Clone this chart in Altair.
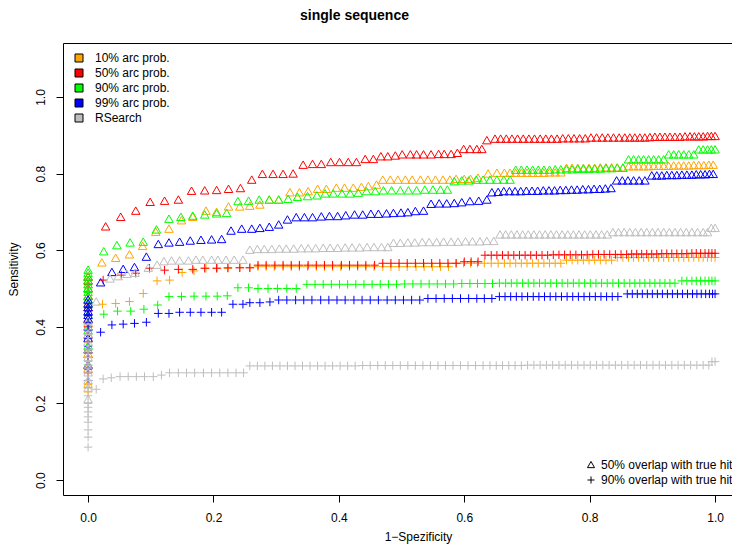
import altair as alt
import pandas as pd

FONT = "Liberation Sans"

SERIES = ["10% arc prob.", "50% arc prob.", "90% arc prob.", "99% arc prob.", "RSearch"]
COLORS = ["#FFA500", "#FF0000", "#00FF00", "#0000FF", "#BEBEBE"]
OVERLAPS = ["50% overlap with true hit", "90% overlap with true hit"]
X_TICKS = [0.0, 0.2, 0.4, 0.6, 0.8, 1.0]
Y_TICKS = [0.0, 0.2, 0.4, 0.6, 0.8, 1.0]

# ---- 10% arc prob. ----
ORANGE_50 = [(0.0,0.25),(0.0,0.29),(0.0,0.33),(0.0,0.37),(0.0,0.41),(0.0,0.45),(0.0,0.48),(0.0,0.51),(0.0,0.53),
 (0.022,0.567),(0.044,0.579),(0.066,0.588),(0.087,0.610),(0.108,0.647),(0.129,0.655),(0.149,0.677),(0.167,0.686),
 (0.188,0.702),(0.205,0.699),(0.224,0.713),(0.242,0.713),(0.258,0.715),(0.274,0.718),(0.289,0.731),(0.304,0.731),
 (0.322,0.750),(0.337,0.750),(0.351,0.753),(0.366,0.759),(0.380,0.759),(0.396,0.762),(0.409,0.762),(0.423,0.762),
 (0.436,0.764),(0.447,0.766),(0.460,0.770),(0.470,0.783),(0.482,0.783),(0.494,0.783),(0.506,0.783),(0.517,0.783),
 (0.530,0.783),(0.542,0.783),(0.554,0.783),(0.566,0.783),(0.577,0.783),(0.587,0.785),(0.600,0.785),(0.610,0.785),
 (0.622,0.788),(0.638,0.799),(0.652,0.801),(0.664,0.801),(0.673,0.801),(0.682,0.801),(0.691,0.801),(0.700,0.801),
 (0.709,0.801),(0.718,0.801),(0.727,0.801),(0.736,0.802),(0.745,0.802),(0.754,0.802),(0.763,0.814),(0.772,0.814),
 (0.781,0.814),(0.790,0.814),(0.799,0.814),(0.808,0.814),(0.817,0.815),(0.826,0.815),(0.835,0.815),(0.844,0.815),
 (0.853,0.815),(0.862,0.818),(0.870,0.818),(0.878,0.818),(0.886,0.818),(0.894,0.818),(0.902,0.819),(0.910,0.819),
 (0.918,0.819),(0.926,0.819),(0.934,0.820),(0.942,0.820),(0.950,0.820),(0.958,0.820),(0.966,0.821),(0.974,0.821),
 (0.982,0.821),(0.990,0.822),(0.997,0.822)]
ORANGE_90 = [(0.0,0.23),(0.0,0.25),(0.0,0.28),(0.0,0.31),(0.0,0.34),(0.0,0.37),(0.0,0.40),(0.0,0.43),(0.0,0.45),
 (0.023,0.459),(0.044,0.461),(0.066,0.466),(0.088,0.487),(0.110,0.520),(0.130,0.522),(0.150,0.542),(0.169,0.546),
 (0.188,0.553),(0.206,0.553),(0.223,0.553),(0.242,0.555),(0.258,0.555),(0.271,0.557),(0.284,0.557),(0.297,0.557),
 (0.311,0.557),(0.324,0.557),(0.337,0.557),(0.350,0.557),(0.364,0.557),(0.377,0.557),(0.390,0.557),(0.403,0.557),
 (0.417,0.557),(0.430,0.557),(0.443,0.557),(0.456,0.557),(0.470,0.557),(0.483,0.557),(0.496,0.557),(0.509,0.557),
 (0.523,0.557),(0.536,0.557),(0.549,0.557),(0.562,0.557),(0.575,0.557),(0.587,0.566),(0.599,0.566),(0.610,0.566),
 (0.621,0.566),(0.632,0.566),(0.643,0.566),(0.654,0.566),(0.664,0.566),(0.673,0.566),(0.682,0.566),(0.691,0.566),
 (0.700,0.566),(0.709,0.566),(0.718,0.566),(0.727,0.566),(0.736,0.566),(0.745,0.566),(0.754,0.566),(0.763,0.574),
 (0.772,0.574),(0.781,0.574),(0.790,0.574),(0.799,0.574),(0.808,0.574),(0.817,0.574),(0.826,0.574),(0.835,0.574),
 (0.844,0.581),(0.853,0.581),(0.862,0.581),(0.870,0.581),(0.878,0.581),(0.886,0.581),(0.894,0.581),(0.902,0.581),
 (0.910,0.581),(0.918,0.581),(0.926,0.581),(0.934,0.581),(0.942,0.581),(0.950,0.581),(0.958,0.581),(0.966,0.581),
 (0.974,0.581),(0.981,0.581),(0.988,0.581),(0.994,0.581),(1.0,0.581)]

# ---- 50% arc prob. ----
RED_50 = [(0.0,0.30),(0.0,0.34),(0.0,0.38),(0.0,0.42),(0.0,0.45),(0.0,0.48),(0.0,0.50),(0.0,0.52),(0.0,0.53),
 (0.028,0.661),(0.052,0.686),(0.076,0.702),(0.099,0.725),(0.122,0.728),(0.144,0.731),(0.165,0.754),(0.186,0.755),
 (0.205,0.756),(0.224,0.759),(0.243,0.761),(0.261,0.783),(0.278,0.798),(0.295,0.798),(0.311,0.798),(0.327,0.799),
 (0.343,0.822),(0.358,0.824),(0.372,0.824),(0.387,0.829),(0.401,0.829),(0.415,0.829),(0.428,0.829),(0.442,0.837),
 (0.455,0.837),(0.467,0.844),(0.478,0.844),(0.490,0.846),(0.501,0.849),(0.514,0.849),(0.524,0.849),(0.535,0.849),
 (0.547,0.849),(0.559,0.850),(0.568,0.850),(0.579,0.850),(0.589,0.853),(0.599,0.863),(0.609,0.863),(0.620,0.863),
 (0.628,0.863),(0.636,0.886),(0.649,0.890),(0.658,0.890),(0.667,0.890),(0.676,0.890),(0.685,0.890),(0.694,0.890),
 (0.703,0.890),(0.712,0.890),(0.721,0.890),(0.730,0.890),(0.739,0.890),(0.748,0.890),(0.757,0.891),(0.766,0.891),
 (0.775,0.891),(0.784,0.891),(0.793,0.891),(0.802,0.893),(0.811,0.893),(0.820,0.893),(0.829,0.893),(0.838,0.893),
 (0.847,0.893),(0.856,0.893),(0.864,0.893),(0.872,0.893),(0.880,0.893),(0.888,0.893),(0.896,0.894),(0.904,0.895),
 (0.912,0.895),(0.920,0.895),(0.928,0.895),(0.936,0.895),(0.944,0.895),(0.952,0.896),(0.960,0.896),(0.967,0.896),
 (0.974,0.896),(0.981,0.896),(0.988,0.897),(0.994,0.897),(1.0,0.897)]
RED_90 = [(0.0,0.28),(0.0,0.32),(0.0,0.36),(0.0,0.40),(0.0,0.43),(0.0,0.46),(0.0,0.49),(0.0,0.51),
 (0.024,0.522),(0.053,0.535),(0.076,0.540),(0.098,0.553),(0.122,0.548),(0.144,0.550),(0.167,0.550),(0.186,0.553),
 (0.205,0.553),(0.223,0.554),(0.242,0.554),(0.258,0.554),(0.271,0.561),(0.284,0.561),(0.298,0.561),(0.311,0.561),
 (0.324,0.561),(0.337,0.561),(0.351,0.561),(0.364,0.561),(0.377,0.561),(0.390,0.561),(0.404,0.561),(0.417,0.561),
 (0.430,0.561),(0.443,0.561),(0.457,0.561),(0.470,0.566),(0.483,0.566),(0.496,0.566),(0.509,0.566),(0.522,0.566),
 (0.535,0.566),(0.548,0.566),(0.561,0.566),(0.574,0.566),(0.587,0.566),(0.600,0.570),(0.611,0.570),(0.622,0.570),
 (0.633,0.587),(0.643,0.587),(0.652,0.587),(0.661,0.587),(0.670,0.587),(0.679,0.587),(0.688,0.587),(0.697,0.587),
 (0.706,0.587),(0.715,0.587),(0.724,0.587),(0.733,0.587),(0.742,0.588),(0.751,0.588),(0.760,0.588),(0.769,0.588),
 (0.778,0.588),(0.787,0.588),(0.796,0.588),(0.805,0.589),(0.814,0.589),(0.823,0.589),(0.832,0.589),(0.841,0.589),
 (0.850,0.589),(0.859,0.589),(0.867,0.590),(0.875,0.590),(0.883,0.590),(0.891,0.590),(0.899,0.590),(0.907,0.590),
 (0.915,0.591),(0.923,0.591),(0.931,0.591),(0.939,0.591),(0.947,0.591),(0.955,0.591),(0.963,0.592),(0.970,0.592),
 (0.977,0.592),(0.984,0.592),(0.990,0.592),(0.995,0.592),(1.0,0.592)]

# ---- 90% arc prob. ----
GREEN_50 = [(0.0,0.35),(0.0,0.39),(0.0,0.43),(0.0,0.46),(0.0,0.47),(0.0,0.48),(0.0,0.49),(0.0,0.50),(0.0,0.51),
 (0.0,0.52),(0.0,0.53),(0.0,0.54),(0.0,0.548),
 (0.025,0.596),(0.046,0.612),(0.067,0.619),(0.088,0.621),(0.109,0.653),(0.129,0.681),(0.148,0.686),(0.167,0.689),
 (0.186,0.692),(0.205,0.695),(0.221,0.696),(0.239,0.727),(0.256,0.728),(0.273,0.731),(0.289,0.731),(0.304,0.731),
 (0.319,0.733),(0.334,0.738),(0.350,0.740),(0.365,0.742),(0.378,0.747),(0.391,0.747),(0.405,0.747),(0.418,0.747),
 (0.431,0.749),(0.444,0.753),(0.458,0.753),(0.471,0.755),(0.484,0.755),(0.498,0.755),(0.511,0.755),(0.524,0.755),
 (0.537,0.757),(0.550,0.757),(0.562,0.757),(0.573,0.757),(0.584,0.779),(0.596,0.781),(0.607,0.781),(0.619,0.783),
 (0.630,0.783),(0.641,0.783),(0.652,0.783),(0.663,0.783),(0.673,0.783),(0.682,0.809),(0.691,0.809),(0.700,0.809),
 (0.709,0.809),(0.718,0.809),(0.727,0.809),(0.736,0.809),(0.745,0.810),(0.754,0.810),(0.763,0.810),(0.772,0.810),
 (0.781,0.811),(0.790,0.811),(0.799,0.811),(0.808,0.812),(0.817,0.812),(0.826,0.813),(0.835,0.813),(0.844,0.814),
 (0.853,0.814),(0.862,0.836),(0.870,0.836),(0.878,0.836),(0.886,0.836),(0.894,0.836),(0.902,0.836),(0.910,0.836),
 (0.918,0.836),(0.926,0.849),(0.934,0.849),(0.942,0.849),(0.950,0.849),(0.958,0.849),(0.966,0.849),(0.974,0.862),
 (0.981,0.862),(0.988,0.862),(0.994,0.862),(1.0,0.862)]
GREEN_90 = [(0.0,0.30),(0.0,0.34),(0.0,0.38),(0.0,0.41),(0.0,0.43),(0.0,0.45),(0.0,0.47),(0.0,0.49),
 (0.025,0.433),(0.047,0.441),(0.068,0.441),(0.089,0.446),(0.111,0.457),(0.129,0.479),(0.149,0.479),(0.169,0.480),
 (0.188,0.480),(0.206,0.480),(0.222,0.481),(0.239,0.502),(0.256,0.502),(0.271,0.500),(0.287,0.500),(0.302,0.500),
 (0.317,0.500),(0.332,0.500),(0.349,0.511),(0.362,0.511),(0.375,0.511),(0.388,0.511),(0.401,0.511),(0.414,0.511),
 (0.427,0.511),(0.440,0.511),(0.453,0.511),(0.466,0.511),(0.479,0.511),(0.492,0.511),(0.505,0.512),(0.518,0.512),
 (0.531,0.512),(0.544,0.512),(0.557,0.512),(0.570,0.512),(0.583,0.512),(0.596,0.513),(0.609,0.513),(0.621,0.513),
 (0.633,0.513),(0.645,0.513),(0.656,0.514),(0.666,0.514),(0.675,0.514),(0.684,0.514),(0.693,0.514),(0.702,0.514),
 (0.711,0.514),(0.720,0.514),(0.729,0.514),(0.738,0.514),(0.747,0.514),(0.756,0.514),(0.765,0.514),(0.774,0.514),
 (0.783,0.514),(0.792,0.514),(0.801,0.514),(0.810,0.514),(0.819,0.514),(0.828,0.514),(0.837,0.514),(0.846,0.514),
 (0.855,0.514),(0.864,0.514),(0.872,0.514),(0.880,0.514),(0.888,0.514),(0.896,0.514),(0.904,0.514),(0.912,0.514),
 (0.920,0.514),(0.928,0.514),(0.936,0.514),(0.947,0.520),(0.955,0.520),(0.963,0.520),(0.970,0.520),(0.977,0.520),
 (0.984,0.520),(0.990,0.520),(0.995,0.520),(1.0,0.520)]

# ---- 99% arc prob. ----
BLUE_50 = [(0.0,0.30),(0.0,0.34),(0.0,0.37),(0.0,0.40),(0.0,0.42),(0.0,0.43),(0.0,0.44),(0.0,0.45),(0.0,0.46),(0.0,0.47),
 (0.020,0.515),(0.038,0.542),(0.056,0.550),(0.074,0.555),(0.093,0.582),(0.112,0.615),(0.129,0.619),(0.146,0.621),
 (0.163,0.624),(0.180,0.626),(0.197,0.627),(0.213,0.628),(0.228,0.650),(0.245,0.655),(0.261,0.655),(0.274,0.657),
 (0.289,0.660),(0.304,0.666),(0.318,0.679),(0.332,0.685),(0.345,0.685),(0.358,0.685),(0.372,0.687),(0.385,0.688),
 (0.398,0.688),(0.411,0.690),(0.425,0.692),(0.438,0.692),(0.451,0.694),(0.463,0.694),(0.476,0.695),(0.487,0.696),
 (0.499,0.697),(0.510,0.698),(0.522,0.701),(0.535,0.702),(0.547,0.720),(0.560,0.721),(0.572,0.721),(0.584,0.722),
 (0.596,0.724),(0.609,0.727),(0.623,0.728),(0.636,0.731),(0.644,0.750),(0.654,0.751),(0.663,0.753),(0.672,0.753),
 (0.681,0.753),(0.690,0.753),(0.699,0.754),(0.708,0.754),(0.717,0.754),(0.726,0.755),(0.735,0.755),(0.744,0.755),
 (0.753,0.756),(0.762,0.756),(0.771,0.757),(0.780,0.757),(0.789,0.758),(0.798,0.758),(0.807,0.759),(0.816,0.759),
 (0.825,0.760),(0.834,0.761),(0.843,0.781),(0.852,0.781),(0.861,0.781),(0.870,0.781),(0.879,0.781),(0.888,0.781),
 (0.899,0.794),(0.907,0.794),(0.915,0.794),(0.923,0.795),(0.931,0.795),(0.939,0.795),(0.947,0.796),(0.955,0.796),
 (0.963,0.796),(0.970,0.797),(0.977,0.797),(0.984,0.797),(0.991,0.798),(0.997,0.798)]
BLUE_90 = [(0.0,0.26),(0.0,0.29),(0.0,0.32),(0.0,0.35),(0.0,0.37),(0.0,0.39),(0.0,0.41),(0.0,0.43),(0.0,0.45),
 (0.020,0.386),(0.038,0.405),(0.056,0.407),(0.074,0.409),(0.093,0.412),(0.112,0.435),(0.129,0.435),(0.146,0.438),
 (0.163,0.438),(0.180,0.438),(0.197,0.438),(0.213,0.438),(0.231,0.459),(0.247,0.459),(0.258,0.463),(0.274,0.463),
 (0.290,0.465),(0.304,0.470),(0.317,0.470),(0.331,0.470),(0.344,0.470),(0.357,0.470),(0.371,0.470),(0.384,0.470),
 (0.397,0.470),(0.410,0.470),(0.424,0.470),(0.437,0.470),(0.450,0.470),(0.463,0.470),(0.477,0.470),(0.490,0.470),
 (0.503,0.470),(0.516,0.470),(0.529,0.470),(0.542,0.474),(0.555,0.474),(0.568,0.474),(0.581,0.474),(0.594,0.474),
 (0.607,0.474),(0.620,0.474),(0.632,0.474),(0.644,0.474),(0.656,0.479),(0.665,0.479),(0.674,0.479),(0.683,0.479),
 (0.692,0.479),(0.701,0.479),(0.710,0.479),(0.719,0.479),(0.728,0.479),(0.737,0.479),(0.746,0.479),(0.755,0.479),
 (0.764,0.479),(0.773,0.479),(0.782,0.479),(0.791,0.479),(0.800,0.479),(0.809,0.479),(0.818,0.479),(0.827,0.479),
 (0.836,0.479),(0.845,0.479),(0.860,0.486),(0.868,0.486),(0.876,0.486),(0.884,0.486),(0.892,0.486),(0.900,0.486),
 (0.908,0.486),(0.916,0.486),(0.924,0.486),(0.932,0.486),(0.940,0.486),(0.948,0.486),(0.956,0.486),(0.964,0.486),
 (0.971,0.486),(0.978,0.486),(0.985,0.486),(0.991,0.486),(0.996,0.486),(1.0,0.486)]

# ---- RSearch ----
GREY_50 = [(0.0,0.21),(0.0,0.24),(0.0,0.26),(0.0,0.28),(0.0,0.30),(0.0,0.32),(0.0,0.34),(0.0,0.36),(0.0,0.38),
 (0.0,0.40),(0.0,0.415),(0.013,0.465),
 (0.035,0.525),(0.048,0.531),(0.062,0.537),(0.075,0.540),(0.096,0.553),(0.110,0.561),(0.121,0.570),(0.133,0.572),
 (0.146,0.572),(0.160,0.572),(0.172,0.574),(0.183,0.574),(0.197,0.574),(0.207,0.574),(0.220,0.574),(0.233,0.574),
 (0.247,0.574),(0.258,0.600),(0.270,0.602),(0.281,0.602),(0.293,0.602),(0.305,0.603),(0.316,0.603),(0.328,0.603),
 (0.340,0.604),(0.351,0.604),(0.363,0.604),(0.375,0.605),(0.386,0.605),(0.398,0.605),(0.410,0.606),(0.421,0.606),
 (0.433,0.606),(0.445,0.607),(0.456,0.607),(0.468,0.607),(0.478,0.607),(0.487,0.618),(0.498,0.618),(0.510,0.619),
 (0.521,0.619),(0.533,0.620),(0.544,0.620),(0.556,0.620),(0.567,0.621),(0.579,0.621),(0.590,0.621),(0.602,0.622),
 (0.613,0.622),(0.625,0.622),(0.636,0.623),(0.647,0.623),(0.657,0.640),(0.666,0.640),(0.675,0.640),(0.684,0.640),
 (0.693,0.640),(0.702,0.640),(0.711,0.640),(0.720,0.640),(0.729,0.640),(0.738,0.640),(0.747,0.640),(0.756,0.640),
 (0.765,0.640),(0.774,0.640),(0.783,0.640),(0.792,0.640),(0.801,0.640),(0.810,0.640),(0.819,0.640),(0.828,0.640),
 (0.837,0.646),(0.846,0.646),(0.855,0.646),(0.864,0.646),(0.873,0.646),(0.882,0.646),(0.891,0.646),(0.900,0.646),
 (0.909,0.646),(0.918,0.646),(0.927,0.646),(0.936,0.646),(0.945,0.646),(0.954,0.646),(0.963,0.646),(0.972,0.646),
 (0.981,0.646),(0.988,0.646),(0.994,0.657),(1.0,0.657)]
GREY_90 = [(0.0,0.086),(0.0,0.112),(0.0,0.131),(0.0,0.151),(0.0,0.165),(0.0,0.178),(0.0,0.19),(0.0,0.20),(0.0,0.22),
 (0.0,0.24),(0.0,0.26),(0.0,0.28),(0.0,0.30),(0.0,0.32),(0.0,0.34),(0.0,0.36),(0.0,0.38),(0.013,0.237),
 (0.024,0.264),(0.037,0.267),(0.051,0.270),(0.064,0.270),(0.077,0.270),(0.090,0.270),(0.104,0.270),(0.117,0.274),
 (0.130,0.280),(0.144,0.280),(0.157,0.280),(0.170,0.280),(0.184,0.280),(0.197,0.280),(0.210,0.280),(0.223,0.280),
 (0.236,0.280),(0.248,0.280),(0.258,0.298),(0.270,0.298),(0.282,0.298),(0.294,0.298),(0.306,0.298),(0.318,0.298),
 (0.330,0.298),(0.342,0.298),(0.354,0.298),(0.366,0.298),(0.378,0.298),(0.390,0.298),(0.402,0.298),(0.414,0.298),
 (0.426,0.298),(0.438,0.299),(0.450,0.299),(0.462,0.299),(0.474,0.299),(0.486,0.299),(0.498,0.299),(0.510,0.299),
 (0.522,0.299),(0.534,0.299),(0.546,0.299),(0.558,0.299),(0.570,0.299),(0.582,0.299),(0.594,0.299),(0.606,0.299),
 (0.618,0.299),(0.630,0.299),(0.641,0.299),(0.651,0.299),(0.661,0.299),(0.671,0.299),(0.681,0.299),(0.691,0.299),
 (0.701,0.300),(0.711,0.300),(0.721,0.300),(0.731,0.300),(0.741,0.300),(0.751,0.300),(0.761,0.300),(0.771,0.300),
 (0.781,0.300),(0.791,0.300),(0.801,0.300),(0.811,0.300),(0.821,0.300),(0.831,0.300),(0.841,0.300),(0.851,0.300),
 (0.861,0.300),(0.871,0.300),(0.881,0.300),(0.891,0.300),(0.901,0.300),(0.911,0.300),(0.921,0.300),(0.931,0.300),
 (0.941,0.300),(0.951,0.300),(0.961,0.300),(0.971,0.300),(0.981,0.300),(0.990,0.300),(0.995,0.309),(1.0,0.309)]

GROUPS = [
    (SERIES[0], ORANGE_50, ORANGE_90),
    (SERIES[1], RED_50, RED_90),
    (SERIES[2], GREEN_50, GREEN_90),
    (SERIES[3], BLUE_50, BLUE_90),
    (SERIES[4], GREY_50, GREY_90),
]

rows = []
for name, tri, plus in GROUPS:
    for ov, pts in ((OVERLAPS[0], tri), (OVERLAPS[1], plus)):
        for px, py in pts:
            rows.append({"series": name, "overlap": ov, "x": px, "y": py, "idx": len(rows)})
df = pd.DataFrame(rows)

legend_df = pd.DataFrame([{"series": n, "x": t[0][0], "y": t[0][1]} for n, t, _ in GROUPS])

TRI = "M0,-1L1,0.75L-1,0.75Z"
PLUS = "M-1,0L1,0M0,-1L0,1"

X_ENC = alt.X("x:Q", scale=alt.Scale(domain=[-0.04, 1.027], nice=False, zero=False),
              axis=alt.Axis(values=X_TICKS, format=".1f", title="1\u2212Spezificity",
                            labelPadding=15, labelBaseline="middle",
                            titleX=355, titleY=41, titleAlign="center", titleBaseline="middle"))
Y_ENC = alt.Y("y:Q", scale=alt.Scale(domain=[-0.039, 1.141], nice=False, zero=False),
              axis=alt.Axis(values=Y_TICKS, format=".1f", title="Sensitivity",
                            labelAngle=270, labelAlign="center", labelBaseline="middle",
                            labelPadding=16, titleAngle=270, titleX=-50, titleY=226,
                            titleAlign="center", titleBaseline="middle"))

points = alt.Chart(df).mark_point(filled=False, size=72, strokeWidth=1, opacity=1).encode(
    x=X_ENC,
    y=Y_ENC,
    color=alt.Color("series:N", scale=alt.Scale(domain=SERIES, range=COLORS), legend=None),
    shape=alt.Shape("overlap:N", scale=alt.Scale(domain=OVERLAPS, range=[TRI, PLUS]),
                    legend=alt.Legend(title=None, orient="none", legendX=522, legendY=416,
                                      symbolStrokeColor="black", symbolStrokeWidth=1,
                                      symbolSize=50, labelFontSize=12, labelFont=FONT,
                                      labelColor="black", labelOffset=4, rowPadding=3,
                                      padding=0)),
    order=alt.Order("idx:Q"),
)


def series_legend():
    return alt.Legend(title=None, orient="none", legendX=10, legendY=9,
                      symbolType="square", symbolSize=64, symbolStrokeWidth=1,
                      symbolOpacity=1, labelFontSize=12, labelFont=FONT,
                      labelColor="black", labelOffset=10, rowPadding=3, padding=0)


# legend-only layer: its rows are filtered away, the legend comes from the explicit
# scale domain; fill gives the colour of each box, stroke its black outline
legend_layer = alt.Chart(legend_df).transform_filter("false").mark_point(
    shape="square", filled=True, size=64, strokeWidth=1
).encode(
    x=X_ENC,
    y=Y_ENC,
    fill=alt.Fill("series:N", scale=alt.Scale(domain=SERIES, range=COLORS),
                  legend=series_legend()),
    stroke=alt.Stroke("series:N", scale=alt.Scale(domain=SERIES, range=["black"] * len(SERIES)),
                      legend=series_legend()),
)

chart = alt.layer(legend_layer, points).properties(
    width=669, height=452,
    title=alt.TitleParams("single sequence", font=FONT, fontSize=14, fontWeight="bold",
                          color="black", anchor="middle", dx=-43, offset=20),
    autosize=alt.AutoSizeParams(type="none"),
    padding={"left": 55, "top": 35, "right": 0, "bottom": 50},
).configure_view(
    stroke="black", strokeWidth=1
).configure_axis(
    domain=False, grid=False, tickColor="black", tickSize=7, tickWidth=1,
    labelFont=FONT, labelFontSize=12, labelColor="black",
    titleFont=FONT, titleFontSize=12, titleColor="black", titleFontWeight="normal",
)

chart.save("out.html", embed_options={"renderer": "svg", "actions": False})
